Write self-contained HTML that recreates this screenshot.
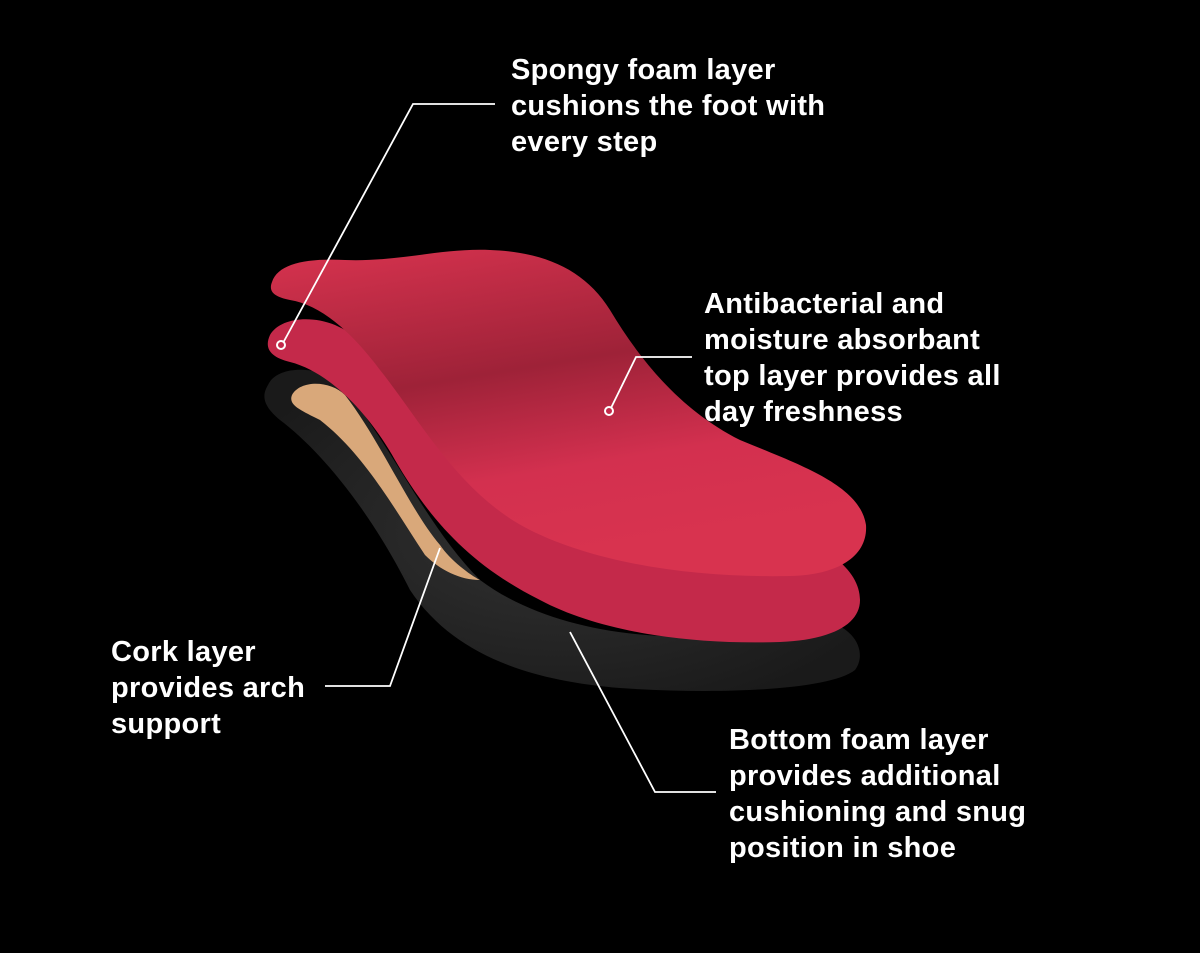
<!DOCTYPE html>
<html><head><meta charset="utf-8"><style>
html,body{margin:0;padding:0;background:#000;}
#c{position:relative;width:1200px;height:953px;overflow:hidden;background:#000;}
.t{position:absolute;color:#fff;font-family:"Liberation Sans",sans-serif;font-weight:bold;font-size:29px;line-height:36px;letter-spacing:0.3px;}
</style></head><body><div id="c">
<svg width="1200" height="953" style="position:absolute;left:0;top:0">
<defs>
<linearGradient id="g1" x1="0" y1="0" x2="0.3" y2="1">
<stop offset="0" stop-color="#d8334f"/><stop offset="0.45" stop-color="#9e2238"/><stop offset="0.75" stop-color="#d3304f"/><stop offset="1" stop-color="#d8334f"/>
</linearGradient>
<radialGradient id="sh" cx="0.5" cy="0.5" r="0.6"><stop offset="0" stop-color="#333"/><stop offset="1" stop-color="#1a1a1a"/></radialGradient>
</defs>
<path d="M268,385 C275,370 300,365 330,375 C380,420 420,520 480,580 C560,640 700,650 800,620 C850,615 870,650 855,670 C830,690 720,695 620,688 C520,680 450,650 410,590 C370,510 320,450 280,420 C262,405 262,395 268,385 Z" fill="url(#sh)"/>
<path d="M292,395 C300,380 330,380 345,395 C380,440 410,510 440,545 C450,560 470,575 480,580 C460,580 440,570 425,555 C395,510 365,455 320,420 C300,410 288,405 292,395 Z" fill="#d9a87a"/>
<path d="M270,335 C280,318 310,315 335,325 C380,345 400,380 430,420 C470,470 560,510 700,520 C800,525 860,560 860,600 C860,625 830,640 780,642 C690,645 600,632 540,600 C470,565 430,520 395,460 C370,415 330,372 290,362 C270,357 264,348 270,335 Z" fill="#c4294a"/>
<path d="M272,282 C278,264 305,258 345,260 C400,262 440,248 490,250 C545,252 585,270 610,310 C640,360 680,410 740,440 C800,465 860,485 866,525 C868,555 840,575 790,576 C700,578 600,565 530,530 C460,495 420,420 380,370 C350,330 320,305 290,300 C275,297 268,292 272,282 Z" fill="url(#g1)"/>
<g stroke="#fff" stroke-width="1.8" fill="none">
<polyline points="283,343 413,104 495,104"/>
<polyline points="610,410 636,357 692,357"/>
<polyline points="440,548 390,686 325,686"/>
<polyline points="570,632 655,792 716,792"/>
</g>
<g fill="#c4294a" stroke="#fff" stroke-width="2"><circle cx="281" cy="345" r="4"/><circle cx="609" cy="411" r="4"/></g>
</svg>
<div class="t" style="left:511px;top:52px">Spongy foam layer<br>cushions the foot with<br>every step</div>
<div class="t" style="left:704px;top:286px">Antibacterial and<br>moisture absorbant<br>top layer provides all<br>day freshness</div>
<div class="t" style="left:111px;top:634px">Cork layer<br>provides arch<br>support</div>
<div class="t" style="left:729px;top:722px">Bottom foam layer<br>provides additional<br>cushioning and snug<br>position in shoe</div>
</div></body></html>
